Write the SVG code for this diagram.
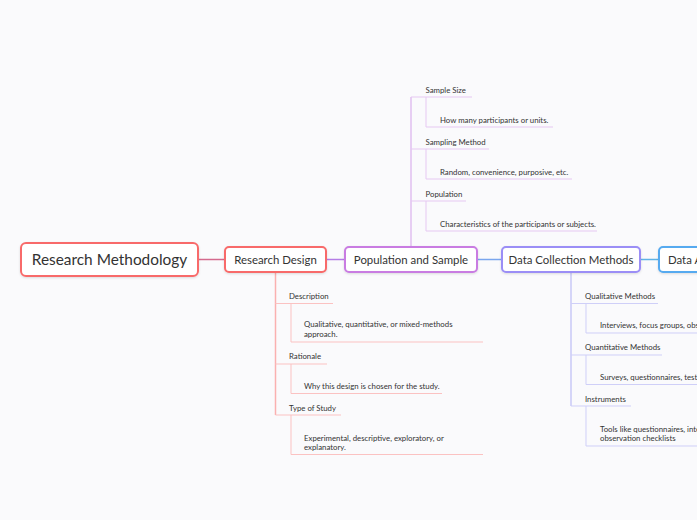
<svg xmlns="http://www.w3.org/2000/svg" width="697" height="520" viewBox="0 0 697 520">
<defs>
<style>
.bg{fill:#fafafc}
.node rect{fill:#ffffff;stroke-width:2}
.t{font-family:Lato,"Noto Sans",sans-serif;fill:#333333}
.big{font-size:15.4px}
.mid{font-size:11.4px}
.sm{font-size:7.8px}
.conn path{fill:none;stroke-width:1.5}
.b line,.b path{fill:none;stroke-width:1}
.pk{stroke:#fbc2c2}
.pu{stroke:#e6c8f2}
.lv{stroke:#cfcff8}
</style>
<filter id="sh" x="-10%" y="-20%" width="120%" height="150%"><feDropShadow dx="0" dy="1" stdDeviation="1" flood-color="#000" flood-opacity="0.12"/></filter>
</defs>
<rect class="bg" x="0" y="0" width="697" height="520"/>

<g id="connectors" class="conn">
<path d="M198 259.5H225" stroke="#d46a8e"/>
<path d="M326 259.5H345" stroke="#b47de6"/>
<path d="M477 259.5H502" stroke="#7aa6ee"/>
<path d="M640 259.5H659" stroke="#5fb2e6"/>
<path d="M411 247V97" stroke="#e0bff0" stroke-width="1.2"/>
<path d="M275.5 272V415" stroke="#fab0b0" stroke-width="1.2"/>
<path d="M571 272V406" stroke="#c9c9f7" stroke-width="1.2"/>
</g>

<g id="root" class="node">
<rect x="21" y="243" width="177" height="33" rx="5" stroke="#f86b6b" stroke-width="2.5" filter="url(#sh)"/>
<text class="t big" x="109.5" y="265" text-anchor="middle">Research Methodology</text>
</g>
<g id="research-design" class="node">
<rect x="225" y="247" width="101" height="25" rx="4" stroke="#f86b6b" filter="url(#sh)"/>
<text class="t mid" x="275.5" y="263.5" text-anchor="middle">Research Design</text>
</g>
<g id="population-sample" class="node">
<rect x="345" y="247" width="132" height="25" rx="4" stroke="#c97ce2" filter="url(#sh)"/>
<text class="t mid" x="411" y="263.5" text-anchor="middle">Population and Sample</text>
</g>
<g id="data-collection" class="node">
<rect x="502" y="247" width="138" height="25" rx="4" stroke="#9b8ef6" filter="url(#sh)"/>
<text class="t mid" x="571" y="263.5" text-anchor="middle">Data Collection Methods</text>
</g>
<g id="data-analysis" class="node">
<rect x="659" y="247" width="90" height="25" rx="4" stroke="#56aaf0" filter="url(#sh)"/>
<text class="t mid" x="668" y="263.5">Data Analysis</text>
</g>

<!-- Population and Sample branch -->
<g id="sample-size" class="b">
<path class="pu" d="M411 97H472"/>
<text class="t sm" x="425.5" y="93">Sample Size</text>
</g>
<g id="sample-size-desc" class="b">
<path class="pu" d="M426 97V127H553"/>
<text class="t sm" x="440" y="123">How many participants or units.</text>
</g>
<g id="sampling-method" class="b">
<path class="pu" d="M411 149H489"/>
<text class="t sm" x="425.5" y="145">Sampling Method</text>
</g>
<g id="sampling-method-desc" class="b">
<path class="pu" d="M426 149V179H572"/>
<text class="t sm" x="440" y="175">Random, convenience, purposive, etc.</text>
</g>
<g id="population" class="b">
<path class="pu" d="M411 201H466"/>
<text class="t sm" x="425.5" y="197">Population</text>
</g>
<g id="population-desc" class="b">
<path class="pu" d="M426 201V231H597"/>
<text class="t sm" x="440" y="227">Characteristics of the participants or subjects.</text>
</g>

<!-- Research Design branch -->
<g id="description" class="b">
<path class="pk" d="M275.5 303.5H333"/>
<text class="t sm" x="289" y="299">Description</text>
</g>
<g id="description-desc" class="b">
<path class="pk" d="M291 303.5V342H483"/>
<text class="t sm" x="304" y="327">Qualitative, quantitative, or mixed-methods</text>
<text class="t sm" x="304" y="336.5">approach.</text>
</g>
<g id="rationale" class="b">
<path class="pk" d="M275.5 364H327"/>
<text class="t sm" x="289" y="359">Rationale</text>
</g>
<g id="rationale-desc" class="b">
<path class="pk" d="M291 364V393.5H442"/>
<text class="t sm" x="304" y="389">Why this design is chosen for the study.</text>
</g>
<g id="type-of-study" class="b">
<path class="pk" d="M275.5 415H341"/>
<text class="t sm" x="289" y="411">Type of Study</text>
</g>
<g id="type-of-study-desc" class="b">
<path class="pk" d="M291 415V454.5H483"/>
<text class="t sm" x="304" y="440.5">Experimental, descriptive, exploratory, or</text>
<text class="t sm" x="304" y="450">explanatory.</text>
</g>

<!-- Data Collection branch -->
<g id="qualitative" class="b">
<path class="lv" d="M571 303.5H658"/>
<text class="t sm" x="585" y="299">Qualitative Methods</text>
</g>
<g id="qualitative-desc" class="b">
<path class="lv" d="M586 303.5V333H720"/>
<text class="t sm" x="600" y="327.5">Interviews, focus groups, observations.</text>
</g>
<g id="quantitative" class="b">
<path class="lv" d="M571 355H662"/>
<text class="t sm" x="585" y="350">Quantitative Methods</text>
</g>
<g id="quantitative-desc" class="b">
<path class="lv" d="M586 355V384.5H720"/>
<text class="t sm" x="600" y="379.5">Surveys, questionnaires, tests.</text>
</g>
<g id="instruments" class="b">
<path class="lv" d="M571 406H631"/>
<text class="t sm" x="585" y="401.5">Instruments</text>
</g>
<g id="instruments-desc" class="b">
<path class="lv" d="M586 406V446H720"/>
<text class="t sm" x="600" y="432">Tools like questionnaires, interview guides,</text>
<text class="t sm" x="600" y="441">observation checklists</text>
</g>
</svg>
